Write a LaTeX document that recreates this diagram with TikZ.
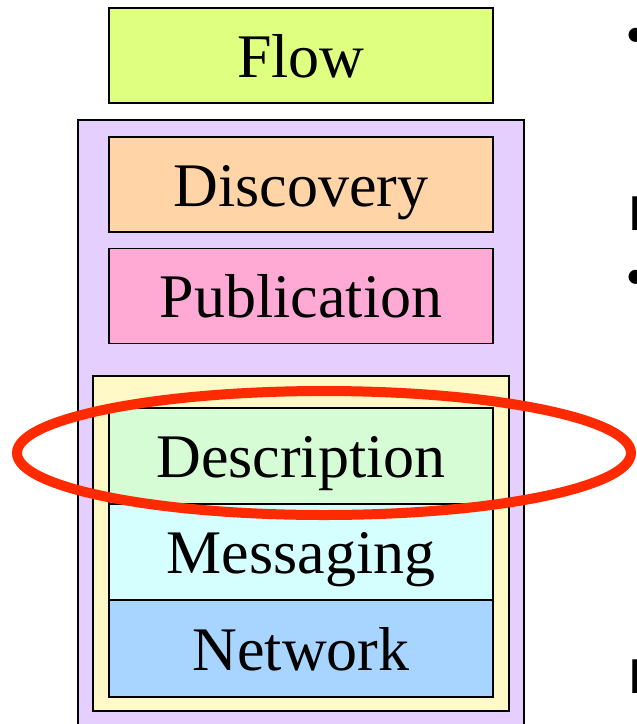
\documentclass[tikz,border=0pt]{standalone}
\usepackage{fontspec}
\setmainfont{Liberation Serif}
\newfontfamily\slidefont{Liberation Sans}
\usetikzlibrary{shapes.geometric}

\definecolor{flowcol}{HTML}{DFFF80}
\definecolor{disccol}{HTML}{FFD5A8}
\definecolor{pubcol}{HTML}{FFAAD5}
\definecolor{desccol}{HTML}{D5FCD5}
\definecolor{msgcol}{HTML}{D5FFFF}
\definecolor{netcol}{HTML}{A8D5FF}
\definecolor{stackcol}{HTML}{E4CFFF}
\definecolor{wscol}{HTML}{FFF9C8}
\definecolor{ringcol}{HTML}{FF2A00}

\begin{document}
\begin{tikzpicture}[x=1pt, y=-1pt]
    \tikzstyle{layer}=[draw, rectangle, line width=1.6pt, inner sep=0pt,
      minimum width=384pt, minimum height=95pt, text height=43pt, text depth=0pt,
      font=\fontsize{62}{66}\selectfont]
    \tikzstyle{frag}=[inner sep=0pt, anchor=base west, font=\slidefont\bfseries\fontsize{49}{52}\selectfont]
  \useasboundingbox (0,0) rectangle (637,724);
  \clip (0,0) rectangle (637,724);

  %% outer stack (runs off the bottom)
  \node (stack) at (301,425) [draw, rectangle, line width=1.6pt, minimum width=446pt,
      minimum height=610pt, fill=stackcol] {};
  %% web service part
  \node (ws) at (301,543.5) [draw, rectangle, line width=1.6pt, minimum width=416pt,
      minimum height=335pt, fill=wscol] {};

  \node (flow) at (301,55.5)  [layer, fill=flowcol] {Flow};
  \node (disc) at (301,184.5) [layer, fill=disccol] {Discovery};
  \node (pub)  at (301,296)   [layer, fill=pubcol]  {Publication};
  \node (desc) at (301,456)   [layer, fill=desccol, minimum height=96pt] {Description};
  \node (msg)  at (301,552)   [layer, fill=msgcol, minimum height=96pt]  {Messaging};
  \node (net)  at (301,648.5) [layer, fill=netcol, minimum height=97pt]  {Network};

  %% highlight
  \node (ring) at (324,453) [draw=ringcol, line width=10pt, ellipse, inner sep=0pt,
      minimum width=614pt, minimum height=124pt] {};

  %% bits of the slide text cut off at the right
  \node (b1) at (627.5,51)  [frag] {•};
  \node (h1) at (629,230)   [frag] {I};
  \node (b2) at (627.5,293) [frag] {•};
  \node (h2) at (629,693)   [frag] {I};
\end{tikzpicture}
\end{document}
